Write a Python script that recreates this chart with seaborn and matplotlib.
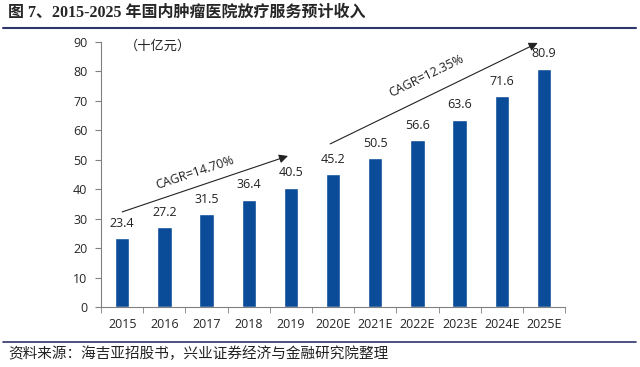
import pandas as pd
import seaborn as sns
import matplotlib.pyplot as plt
import numpy as np

years = ["2015", "2016", "2017", "2018", "2019", "2020E", "2021E",
         "2022E", "2023E", "2024E", "2025E"]
revenue = [23.4, 27.2, 31.5, 36.4, 40.5, 45.2, 50.5, 56.6, 63.6, 71.6, 80.9]
cagr_labels = ["CAGR=14.70%", "CAGR=12.35%"]

title = "图 7、2015-2025 年国内肿瘤医院放疗服务预计收入"
source = "资料来源：海吉亚招股书，兴业证券经济与金融研究院整理"
unit = "（十亿元）"

sns.set_style("ticks")
plt.rcParams['font.family'] = ['Open Sans', 'Noto Sans CJK SC', 'DejaVu Sans']

df = pd.DataFrame({"year": years, "revenue": revenue})

fig = plt.figure(figsize=(6.4, 3.67), dpi=100)
ax = fig.add_axes([0.158, 0.1635, 0.725, 0.722])

sns.barplot(data=df, x="year", y="revenue", color="#0A4C98", width=0.34,
            saturation=1, ax=ax)

ax.set_ylim(0, 90)
ax.set_xlim(-0.5, len(years) - 0.5)
ax.set_yticks(np.arange(0, 91, 10))
ax.set_xlabel("")
ax.set_ylabel("")
ax.tick_params(axis="y", labelsize=9, length=4, color="#808080", pad=6)
ax.tick_params(axis="x", which="major", labelsize=9, length=0, pad=8)
ax.set_xticks(np.arange(-0.5, len(years), 1), minor=True)
ax.tick_params(axis="x", which="minor", length=4, color="#808080")
for s in ["top", "right"]:
    ax.spines[s].set_visible(False)
for s in ["left", "bottom"]:
    ax.spines[s].set_color("#808080")
    ax.spines[s].set_linewidth(0.8)

for i, v in enumerate(revenue):
    ax.annotate(f"{v:.1f}", (i, v), xytext=(0, 6), textcoords="offset points",
                ha="center", va="bottom", fontsize=9, color="#222222")

# CAGR arrows
ax.annotate("", xy=(3.93, 51.3), xytext=(0.0, 32.3),
            arrowprops=dict(arrowstyle="-|>", color="#222222", lw=0.8,
                            mutation_scale=13, shrinkA=0, shrinkB=0),
            annotation_clip=False)
ax.annotate("", xy=(9.85, 89.7), xytext=(4.93, 55.4),
            arrowprops=dict(arrowstyle="-|>", color="#222222", lw=0.8,
                            mutation_scale=13, shrinkA=0, shrinkB=0),
            annotation_clip=False)
ax.text(1.73, 45.5, cagr_labels[0], rotation=18.5, ha="center", va="center",
        fontsize=9, color="#222222", rotation_mode="anchor")
ax.text(7.2, 78.5, cagr_labels[1], rotation=26, ha="center", va="center",
        fontsize=9, color="#222222", rotation_mode="anchor")

ax.text(0.85, 88.5, unit, ha="center", va="center", fontsize=9.5,
        color="#222222")

# header / footer
fig.text(8 / 640, 1 - 13 / 367, title, ha="left", va="center", fontsize=11.5,
         fontweight="bold", family=['Liberation Serif', 'Noto Sans CJK SC'])
fig.add_artist(plt.Line2D([3 / 640, 636 / 640], [1 - 28 / 367, 1 - 28 / 367],
                          color="#2E3568", lw=1.5))
fig.add_artist(plt.Line2D([3 / 640, 636 / 640], [1 - 342 / 367, 1 - 342 / 367],
                          color="#2E3568", lw=1.2))
fig.text(8 / 640, 1 - 354 / 367, source, ha="left", va="center", fontsize=10.5,
         family=['Noto Sans CJK SC', 'DejaVu Sans'], color="#222222")

fig.savefig("out.png", dpi=100)
